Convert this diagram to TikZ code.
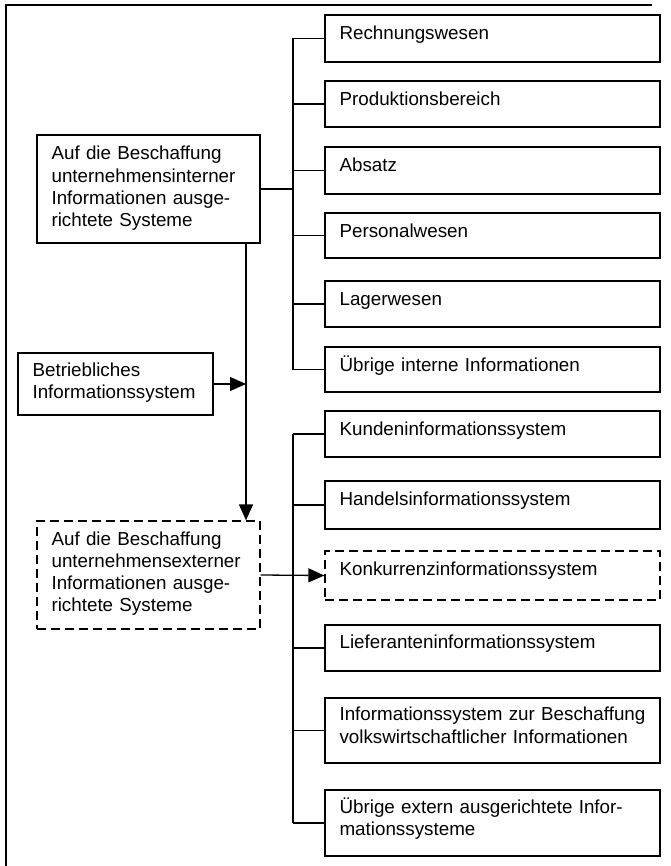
\documentclass[tikz,border=0pt]{standalone}
\usepackage{fontspec}
\setmainfont{Liberation Sans}
\usetikzlibrary{arrows.meta}
\tikzset{
  frameline/.style={line width=1.4pt},
  boxr/.style={draw, line width=1.3pt, rectangle, inner sep=0pt, minimum width=335pt},
  boxl/.style={draw, line width=1.3pt, rectangle, inner sep=0pt},
  dashbox/.style={dash pattern=on 9pt off 5pt},
  txt/.style={anchor=base west, inner sep=0pt, text width=#1, align=left,
              font=\fontsize{18.8}{22.3}\selectfont},
  conn/.style={line width=1.3pt},
  arr/.style={conn, -{Triangle[length=16pt,width=14pt]}}
}
\begin{document}
\begin{tikzpicture}[x=1pt,y=-1pt]
\useasboundingbox (0,0) rectangle (670,866);
% outer frame (top and left edges)
\draw[frameline] (6,866) -- (6,5) -- (652,5);

% bus coordinates
\coordinate (bus) at (293,0);
\coordinate (vx) at (246,0);

% right boxes
\node[boxr, minimum height=47pt] (b1) at (492.5,38.5) {};
\node[boxr, minimum height=46pt] (b2) at (492.5,104) {};
\node[boxr, minimum height=47pt] (b3) at (492.5,170.5) {};
\node[boxr, minimum height=45pt] (b4) at (492.5,235.5) {};
\node[boxr, minimum height=46pt] (b5) at (492.5,304) {};
\node[boxr, minimum height=45pt] (b6) at (492.5,369.5) {};
\node[boxr, minimum height=46pt] (b7) at (492.5,434) {};
\node[boxr, minimum height=48pt] (b8) at (492.5,505) {};
\node[boxr, dashbox, minimum height=49pt] (b9) at (492.5,575.5) {};
\node[boxr, minimum height=46pt] (b10) at (492.5,648) {};
\node[boxr, minimum height=65pt] (b11) at (492.5,730.5) {};
\node[boxr, minimum height=66pt] (b12) at (492.5,823) {};

\node[txt=318pt] (t1) at ([shift={(15,25.5)}]b1.north west) {Rechnungswesen};
\node[txt=318pt] (t2) at ([shift={(15,25)}]b2.north west) {Produktionsbereich};
\node[txt=318pt] (t3) at ([shift={(15,25)}]b3.north west) {Absatz};
\node[txt=318pt] (t4) at ([shift={(15,25)}]b4.north west) {Personalwesen};
\node[txt=318pt] (t5) at ([shift={(15,25)}]b5.north west) {Lagerwesen};
\node[txt=318pt] (t6) at ([shift={(15,25)}]b6.north west) {Übrige interne Informationen};
\node[txt=318pt] (t7) at ([shift={(15,25)}]b7.north west) {Kundeninformationssystem};
\node[txt=318pt] (t8) at ([shift={(15,25)}]b8.north west) {Handelsinformationssystem};
\node[txt=318pt] (t9) at ([shift={(15,25)}]b9.north west) {Konkurrenzinformationssystem};
\node[txt=318pt] (t10) at ([shift={(15,24)}]b10.north west) {Lieferanteninformationssystem};
\node[txt=318pt] (t11) at ([shift={(15,23.5)}]b11.north west) {Informationssystem zur Beschaffung\\volkswirtschaftlicher Informationen};
\node[txt=318pt] (t12) at ([shift={(15,24)}]b12.north west) {Übrige extern ausgerichtete Infor-\\mationssysteme};

% left boxes
\node[boxl, minimum width=223pt, minimum height=108pt] (int) at (148.5,189) {};
\node[boxl, minimum width=195pt, minimum height=62pt] (bet) at (115.5,384) {};
\node[boxl, dashbox, minimum width=223pt, minimum height=108pt] (ext) at (148.5,575) {};

\node[txt=205pt] (tint) at ([shift={(15,25.5)}]int.north west) {Auf die Beschaffung\\unternehmensinterner\\Informationen ausge-\\richtete Systeme};
\node[txt=180pt] (tbet) at ([shift={(15,23.7)}]bet.north west) {Betriebliches\\Informationssystem};
\node[txt=205pt] (text) at ([shift={(15,24.7)}]ext.north west) {Auf die Beschaffung\\unternehmensexterner\\Informationen ausge-\\richtete Systeme};

% internal tree
\draw[conn] (int.east) -- (int.east -| bus);
\draw[conn] (b1.west -| bus) -- (b6.west -| bus);
\foreach \b in {b1,b2,b3,b4,b5,b6}{
  \draw[conn] (\b.west) -- (\b.west -| bus);
}
% external tree
\draw[conn] (b7.west -| bus) -- (b12.west -| bus);
\foreach \b in {b7,b8,b10,b11,b12}{
  \draw[conn] (\b.west) -- (\b.west -| bus);
}
\draw[arr] (ext.east) -- (b9.west);

% vertical arrow and Betriebliches arrow
\draw[arr] (int.south -| vx) -- (ext.north -| vx);
\draw[arr] (bet.east) -- (bet.east -| vx);
\end{tikzpicture}
\end{document}
